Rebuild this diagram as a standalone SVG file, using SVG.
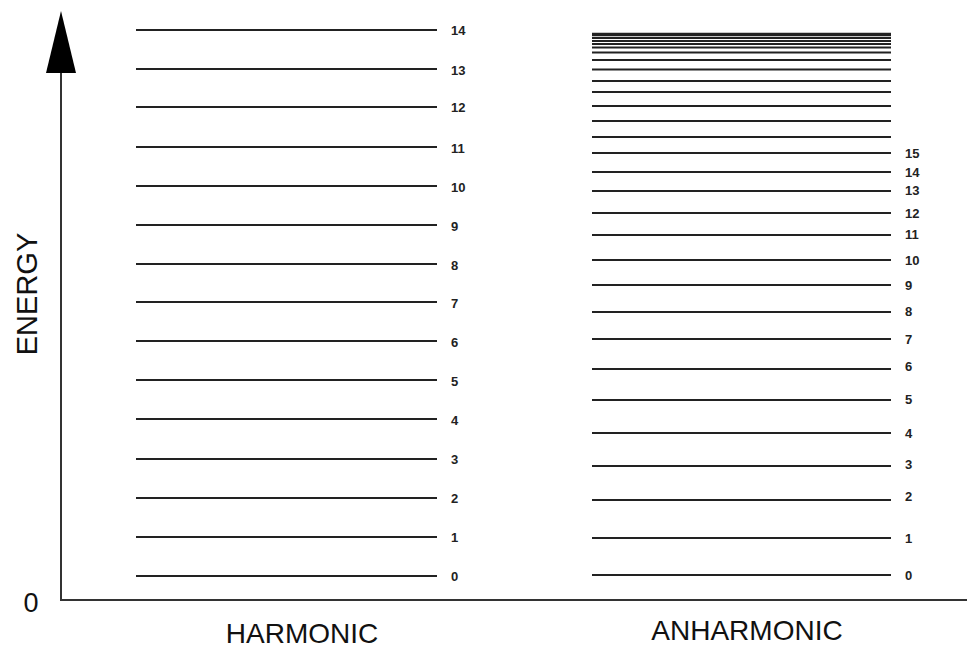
<svg xmlns="http://www.w3.org/2000/svg" width="967" height="649" viewBox="0 0 967 649">
<style>
.lv{stroke:#222;stroke-width:2;fill:none}
.n{font-family:"Liberation Sans",Arial,sans-serif;font-size:13px;font-weight:bold;fill:#222}
.t{font-family:"Liberation Sans",Arial,sans-serif;font-size:28px;fill:#111}
.ax{stroke:#333;stroke-width:2;fill:none}
</style>
<rect width="967" height="649" fill="#fff"/>
<g id="axes">
<line class="ax" x1="61" y1="70" x2="61" y2="600"/>
<line class="ax" x1="60" y1="600" x2="967" y2="600"/>
<polygon points="61,11 46,73 76,73" fill="#000"/>
<text class="t" x="31" y="612" text-anchor="middle" style="font-size:27px">0</text>
<text class="t" transform="translate(37,294) rotate(-90)" text-anchor="middle" style="font-size:29px">ENERGY</text>
<text class="t" x="302" y="643" text-anchor="middle">HARMONIC</text>
<text class="t" x="747" y="640" text-anchor="middle">ANHARMONIC</text>
</g>
<g id="harmonic">
<line class="lv" x1="136" y1="30" x2="437" y2="30"/><text class="n" x="451" y="35">14</text>
<line class="lv" x1="136" y1="69" x2="437" y2="69"/><text class="n" x="451" y="75">13</text>
<line class="lv" x1="136" y1="107" x2="437" y2="107"/><text class="n" x="451" y="112">12</text>
<line class="lv" x1="136" y1="147" x2="437" y2="147"/><text class="n" x="451" y="153">11</text>
<line class="lv" x1="136" y1="186" x2="437" y2="186"/><text class="n" x="451" y="192">10</text>
<line class="lv" x1="136" y1="225" x2="437" y2="225"/><text class="n" x="451" y="231">9</text>
<line class="lv" x1="136" y1="264" x2="437" y2="264"/><text class="n" x="451" y="270">8</text>
<line class="lv" x1="136" y1="302" x2="437" y2="302"/><text class="n" x="451" y="308">7</text>
<line class="lv" x1="136" y1="341" x2="437" y2="341"/><text class="n" x="451" y="347">6</text>
<line class="lv" x1="136" y1="380" x2="437" y2="380"/><text class="n" x="451" y="386">5</text>
<line class="lv" x1="136" y1="419" x2="437" y2="419"/><text class="n" x="451" y="425">4</text>
<line class="lv" x1="136" y1="459" x2="437" y2="459"/><text class="n" x="451" y="464">3</text>
<line class="lv" x1="136" y1="498" x2="437" y2="498"/><text class="n" x="451" y="503">2</text>
<line class="lv" x1="136" y1="537" x2="437" y2="537"/><text class="n" x="451" y="542">1</text>
<line class="lv" x1="136" y1="576" x2="437" y2="576"/><text class="n" x="451" y="581">0</text>
</g>
<g id="anharmonic">
<line class="lv" x1="592" y1="34.5" x2="891" y2="34.5" style="stroke-width:3.5"/>
<line class="lv" x1="592" y1="38" x2="891" y2="38"/>
<line class="lv" x1="592" y1="41" x2="891" y2="41"/>
<line class="lv" x1="592" y1="44" x2="891" y2="44"/>
<line class="lv" x1="592" y1="47.5" x2="891" y2="47.5"/>
<line class="lv" x1="592" y1="52.5" x2="891" y2="52.5"/>
<line class="lv" x1="592" y1="60" x2="891" y2="60"/>
<line class="lv" x1="592" y1="69.5" x2="891" y2="69.5"/>
<line class="lv" x1="592" y1="81" x2="891" y2="81"/>
<line class="lv" x1="592" y1="92" x2="891" y2="92"/>
<line class="lv" x1="592" y1="106" x2="891" y2="106"/>
<line class="lv" x1="592" y1="121" x2="891" y2="121"/>
<line class="lv" x1="592" y1="137" x2="891" y2="137"/>
<line class="lv" x1="592" y1="153" x2="891" y2="153"/><text class="n" x="905" y="158">15</text>
<line class="lv" x1="592" y1="172" x2="891" y2="172"/><text class="n" x="905" y="177">14</text>
<line class="lv" x1="592" y1="191" x2="891" y2="191"/><text class="n" x="905" y="195">13</text>
<line class="lv" x1="592" y1="213" x2="891" y2="213"/><text class="n" x="905" y="218">12</text>
<line class="lv" x1="592" y1="235" x2="891" y2="235"/><text class="n" x="905" y="239">11</text>
<line class="lv" x1="592" y1="260" x2="891" y2="260"/><text class="n" x="905" y="265">10</text>
<line class="lv" x1="592" y1="285" x2="891" y2="285"/><text class="n" x="905" y="290">9</text>
<line class="lv" x1="592" y1="312" x2="891" y2="312"/><text class="n" x="905" y="316">8</text>
<line class="lv" x1="592" y1="339" x2="891" y2="339"/><text class="n" x="905" y="344">7</text>
<line class="lv" x1="592" y1="369" x2="891" y2="369"/><text class="n" x="905" y="371">6</text>
<line class="lv" x1="592" y1="400" x2="891" y2="400"/><text class="n" x="905" y="404">5</text>
<line class="lv" x1="592" y1="433" x2="891" y2="433"/><text class="n" x="905" y="438">4</text>
<line class="lv" x1="592" y1="466" x2="891" y2="466"/><text class="n" x="905" y="469">3</text>
<line class="lv" x1="592" y1="500" x2="891" y2="500"/><text class="n" x="905" y="501">2</text>
<line class="lv" x1="592" y1="538" x2="891" y2="538"/><text class="n" x="905" y="543">1</text>
<line class="lv" x1="592" y1="575" x2="891" y2="575"/><text class="n" x="905" y="580">0</text>
</g>
</svg>
